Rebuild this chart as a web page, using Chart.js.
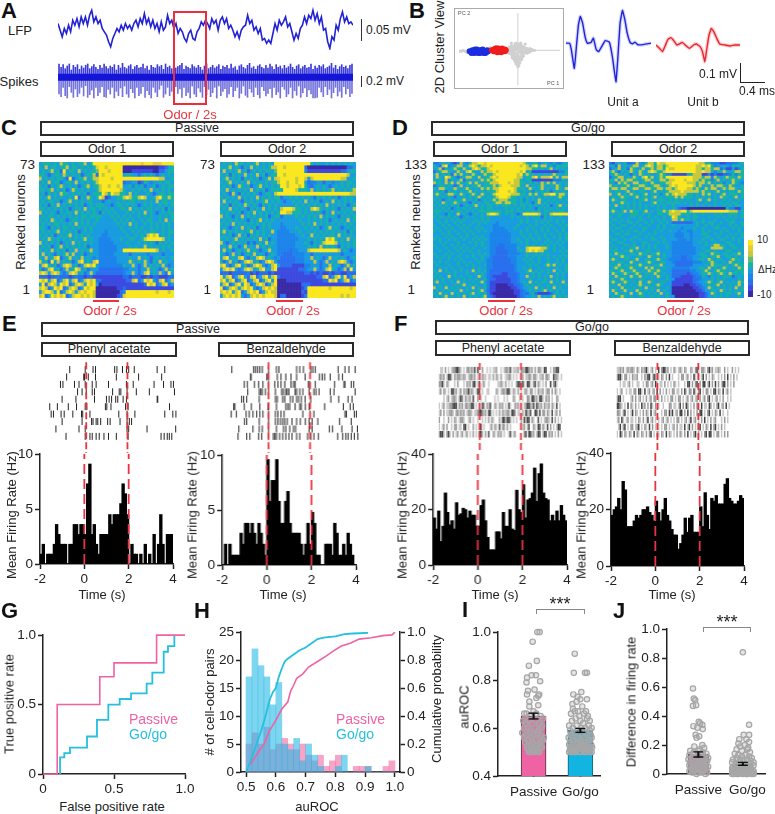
<!DOCTYPE html>
<html>
<head>
<meta charset="utf-8">
<title>Panels</title>
<script src="https://cdn.jsdelivr.net/npm/chart.js@4/dist/chart.umd.min.js"></script>
<style>
  html, body { margin: 0; background: #fff; }
  #page { position: relative; width: 775px; height: 814px; overflow: hidden; font-family: "Liberation Sans", Arial, sans-serif; color: #222; }
  #page canvas { position: absolute; }
  .t { position: absolute; white-space: nowrap; line-height: 1; }
  .box { position: absolute; box-sizing: border-box; border: 2px solid #2a2a2a; background: #fff; font-size: 12.5px; line-height: 1; display: flex; align-items: center; justify-content: center; white-space: nowrap; }
  .rule { position: absolute; }
</style>
</head>
<body>
<div id="page"></div>
<script>
/* ---------- panel A traces ---------- */
const lfpTrace = [20,0,-20,5,-10,15,-5,30,15,35,10,40,20,40,15,45,60,25,40,20,30,5,-5,-15,-35,-50,-25,-10,5,-5,15,0,20,5,15,0,20,30,10,35,20,50,20,35,10,30,5,20,-5,25,0,10,45,20,30,5,20,-10,5,-5,-25,-35,-10,0,-25,-30,-5,5,25,15,30,20,5,35,20,30,0,30,40,20,35,5,15,0,-20,-5,-25,0,10,15,45,20,30,0,10,-10,5,-30,-25,-40,-30,-40,-10,20,0,30,15,25,40,10,20,-5,-30,-10,-25,5,15,40,20,45,35,60,30,50,20,40,0,5,-35,-55,-20,-30,15,0,35,55,25,40,20,25,15];
const spikeUp = [40,30,38,26,34,40,22,36,30,38,24,34,28,36,40,26,32,38,30,24,36,28,40,32,26,34,30,38,22,36,28,42,30,26,34,38,24,32,36,28,30,40,26,34,22,36,30,28,38,32,36,24,40,30,34,26,38,28,32,36,42,24,34,30,26,38,32,28,36,30,22,34,40,26,30,36,28,32,38,24,34,30,36,26,40,28,32,22,34,38,30,26,36,42,28,32,24,34,38,30,26,36,28,40,32,24,38,30,34,26,36,28,32,40,30,24,34,38,26,32,36,28,30,40,24,34,28,36,32,38,26,30,34,42,28,36,24,32,38,30,34,26,36,40];
const spikeDown = [50,58,30,55,62,28,45,60,35,58,48,30,56,25,60,52,38,62,30,55,45,28,58,60,36,50,30,62,42,55,32,58,26,50,60,34,46,62,30,55,48,28,60,40,52,62,30,45,58,36,24,60,50,30,55,42,62,28,48,35,60,30,55,45,62,26,50,58,32,44,60,28,52,36,58,46,30,62,26,55,42,34,60,50,28,58,40,30,62,48,26,54,60,34,45,58,30,52,62,28,40,56,48,34,60,30,52,44,62,28,36,58,50,30,62,40,54,26,60,46,32,58,38,50,62,62,60,30,44,58,28,52,36,62,46,30,56,42,60,28,50,34,58,48];

/* ---------- panel B waveforms and clusters ---------- */
const unitATime = [0,.06,.09,.14,.18,.21,.24,.28,.32,.36,.42,.46,.51,.55,.6,.66,.73,.78,.84,.87,.91,.95,.99,1.03,1.08,1.12,1.16,1.21,1.3,1.43];
const unitAVolt = [0,0,-.033,-.125,0,.092,.133,.1,.033,0,.003,.025,-.033,-.042,-.017,.013,.005,-.067,-.192,-.083,.1,.163,.117,.05,.003,-.003,.005,-.008,-.007,0];
const unitBTime = [0,.06,.11,.16,.2,.25,.29,.35,.39,.44,.5,.56,.63,.68,.74,.78,.82,.85,.89,.93,.97,1.02,1.07,1.16,1.24,1.32,1.41];
const unitBVolt = [0,-.017,-.033,0,.028,.037,.025,0,.005,.013,-.003,-.017,0,.005,-.008,-.033,-.083,-.025,.05,.083,.067,.033,.005,0,-.005,0,0];
const pc1Blue = [-52,-50,-49,-47,-46,-44,-43,-41,-40,-38,-37,-35,-34,-32,-50,-47,-44,-41,-38,-35,-48,-45,-42,-39,-36,-33];
const pc2Blue = [-1,-2,0,-3,1,-1,-3,0,-2,1,-3,-1,-2,-1,-3,0,1,-3,0,-3,-1,-2,-1,-2,-1,0];
const pc1Red = [-28,-26,-25,-23,-22,-20,-19,-17,-16,-14,-13,-26,-23,-20,-17,-14,-24,-21,-18,-15];
const pc2Red = [0,1,-1,2,-2,1,-1,2,-1,1,0,-1,0,0,1,-1,2,2,-2,0];
const pc1Gray = [-63,-61,-59,-57,-55,-53,-30,-11,-10,-9,-8,-7,-6,-5,-4,-3,-2,-1,0,1,2,3,4,5,6,7,8,9,10,11,12,13,14,15,16,-10,-8,-6,-4,-2,0,2,4,6,8,10,12,-9,-7,-5,-3,-1,1,3,5,7,9,11,-9,-6,-3,0,3,6,9,12,-6,-4,-2,0,2,4,6,-5,-3,-1,1,3,5,-4,-2,0,2,4,-3,-1,1,3,-2,0,2,-1,1,0,-1,1,-2,-6,-3,0,3,6,-8,-4,0,4,8,-5,5,-10,10,14,18,-7,-2,3,8,-5,0,5,10,-7,-3,2,7];
const pc2Gray = [-1,-1,0,-1,-2,-1,3,-1,2,-1,3,1,4,-1,5,2,6,3,7,4,6,2,5,1,4,3,2,-1,2,1,0,2,-1,1,0,-3,-4,-2,-5,-3,-6,-2,-4,-3,-1,-2,-1,4,5,4,7,6,5,7,4,3,2,1,-2,-6,-7,-5,-7,-6,-3,-2,-8,-7,-9,-10,-8,-8,-6,-9,-8,-11,-10,-8,-7,-10,-12,-11,-9,-10,-12,-13,-14,-11,-15,-16,-14,-12,-17,-18,-8,-9,-13,3,1,2,0,3,1,-1,0,-1,-2,0,-1,0,1,0,0,8,8,8,7,-4,-5,-4,-3,2,3,3,3];

/* ---------- panels C, D: one digit per cell, 0 lowest to 9 highest, top row first ---------- */
const parula = ['#3a2aa8','#3c4ae0','#2a70ee','#1c84ea','#1a9ce0','#17b3a6','#5cbc78','#c6c840','#e6cc30','#fbe71f'];
const heatC1 = [
"455545475545455745999999999999999989998889999",
"547455455745545454589979999900000000000011245",
"454574529455474545569997999900011111110022455",
"554245547545452455729799999945544245454245454",
"745454554292455745779999799999999999999977445",
"454745524554745454579999999923344125434454554",
"545254575454524574557997997944535452445245455",
"554574545247545454457999999754454545474545454",
"452545475545454524555975977554745444542455455",
"545745454454925475459712445579755797445795575",
"454554524574545455444245445454554545454745545",
"545254745454545245455544245545454245454454545",
"554545454524554745545454544554745454554545254",
"745454254554745454542545454445454547454245455",
"454554545454545545555444545454544545454454545",
"545475454245545454454444454545454454554454745",
"454545545454745454544444445454745445454545454",
"554254545545454545444444444544545454454545454",
"454545745454524545444434444454454545455445455",
"545452454574545454444334444445445454797945454",
"454754545454545745443333444544554457999997454",
"745454524547454545443333344445444545454254545",
"454524574545454524443333334444545447454545454",
"545474545254745457443333334499999999999745445",
"474542545747445245443333344444244444344442444",
"547457924574547454343333334444544745424545445",
"745294745452479454793333334444754547425474544",
"479545247974524797943333333354474247454547424",
"524794524745974524442222222233444244745424745",
"797479742479745247422222222234474247945474294",
"222122322212322122111111111122122211212211122",
"979479247947924797922111111112279249794279247",
"492797497924797497940111111111111112979247924",
"797249792479724979900000001121111111111111111",
"479974924797479799700000000239999999999799979",
"792497979247997979700000001289999999999999999"];
const heatC2 = [
"454547554545745454999999999999545445454545454",
"545745425474545457799799999920000000000000224",
"474545745245454554699999999931111111111122455",
"545254547454745245599799999999999999999999744",
"457454525454524574789999979974799999999977445",
"545745454745454545579979979942334424434454554",
"454524754524574545459979997953245454245454545",
"547454545474545245555999975554745454574545457",
"454274254545424554799999999999999999999999977",
"545454745454745454552445454545425454545245454",
"474545425454545745454244545474545245474545454",
"545254547545425454544444454545454547454545245",
"454745454254547454547999755454797545454254547",
"545454524547454545459977555454545425474545454",
"745425474545454524552444454545454745454254545",
"454545454254574545444444445445454545245454745",
"545474545454545454443444444545474545454545454",
"454245474545245454443344454454545245745424545",
"574545454574545447433334445445454545454545254",
"454524745254545454433333344544745454554745454",
"545457454545474524433333334445454549795454745",
"742454545242454745433333344454254579997454545",
"454745247454745454433333344445454745454254545",
"474524545745424574433332334447999999999745424",
"542474524547454245433222333344244444444424444",
"479454794254797454342222233344745424745454245",
"524745247974524797422222233344474247454797424",
"794247945247974247942222111133444244745424745",
"479794247974579447911111112234474247954247294",
"222122222312122212111111111122121211212211222",
"947924794279247947921111111111112279247949247",
"794792479247924794900011111111111122979247924",
"479247949724797247900000000222111111111111111",
"924797479794247979700000000139999999799999979",
"797947924797924797700000000219999999999999999",
"479797942479797999702200000139999999999979799"];
const heatD1 = [
"324545213743577997999999999999754553454353245",
"542793457745797577979999999997975795774535555",
"457254575475479755799999999999977554545745454",
"245775447547954475779799999997945111111111335",
"574545275745475457557999999979575545454575545",
"475497542457754745579799999977455795777957477",
"545473545725454575757999999775455111111133354",
"755475747545747545577799979775545454757574545",
"245545424745455745557579997775474545754547545",
"547754575457545475757799999755547545745457547",
"454525454545745454555799979754545354545245454",
"575457754754575475457999997775547574577995775",
"454545425454545754545799975545454545454545754",
"545245454574545245457577755545354547545454545",
"454754575454254545545775775545454257454545454",
"545454545245457454554545554545545454545245745",
"454545245454545454554444545454545425454545454",
"555454545545454555555554555455454545455454554",
"454425447454245454799754545424999997454799999",
"545545454245454454544444445454454545254544544",
"454454545454445454544444444445454454454545454",
"445454454544454545444344444445454454545445454",
"544545445454544544443344444454445454454544545",
"454454544545445454443333444544454544545454454",
"545445454454544545443333344445454454545445454",
"444545445445454444433333334445445454454544545",
"454454544545445454433333334444545445454454545",
"545445454454454545433333334454454545445444545",
"445454445444545454433333334445454454454545454",
"544544545454445454433322333344454544545454544",
"454454454545454445433222333354479999775454454",
"445445445454544544433222233345479797754454545",
"544454544544454545433222233334454454545444454",
"454545445445454454432222233344454545445454545",
"445445454544445454332222223344545445445445454",
"545454445454544544332222223344454545445445454",
"454445445445454445332222222344445454457574545",
"445454544544454544332222222344545445445445445",
"547454454545474545322222222344457454545474545",
"454445454445445454322221122234454545445445454",
"545447454544544754321111122234474545454745454",
"454545445454545445322111112234445445454545454",
"574544547454454574311111112234547454554745474",
"445454454574545445311000011223454545445454545",
"745474545445474545311000001123445474545474544",
"454545454745454574211000000112345454574545454",
"547454745454574545310000000112324521111245454",
"454574545474545457321000000012344547454574545"];
const heatD2 = [
"314545223743577597799999999999775533311223345",
"452745457745797577579999999997797953445435554",
"245745275457457577597799999997757757724114135",
"574254575475479755799999999997797753557545775",
"457545425475454457533111114577711313112235355",
"245774547547957457599999999977757737545755475",
"557475775545775457757799979977575535745457554",
"543757547745547545577999997775775745453547543",
"745455745577545775457979999975745475775475445",
"577577457745775577577579997757547577457577545",
"545545745455445745457777977777575545745455475",
"745745475545745453575797775545475745457455545",
"454575545745545745455575755545454545475545745",
"475455445455745455545454545445745745445454454",
"454575545454445745455555454545445445454545544",
"547454545454545454544544444545454545445454554",
"454454545454544454544542110000000000000533114",
"575457475545745455757977995799999999999977745",
"454554455545454455457777555454454445454455545",
"544544455454454544545975445455444544545454545",
"455454544455445454544775755454454445444545444",
"544544554544545445454222222245454554454455445",
"454455445454454454544544444445445454544454545",
"545544454445544454544444344454454445545445454",
"454454545545444545445443443344454544454544454",
"445545544454454544444433344344455445454454545",
"544454445544545445444433344344445544544545445",
"455445454454445544544443334344454454455445454",
"544554445445544454544333333344545445444554454",
"454445545445454544454333333344445457755455444",
"545454455745454544454333333334454477775445545",
"455445574544554454444333333334445545444554454",
"547554455475545574544333333334554475545545574",
"454575544554475454544333223344455455744554545",
"575445545744554575443333223344554754554457554",
"454554475454575445544322222233344575445475454",
"545745554575454557444422222244445475554545755",
"457554575454757454544333333444554745457545475",
"554575457545475575444222222334457545755454555",
"475457545754554754544222221233455754575475545",
"547545475574545475454222111123354354545552454",
"454575454455445454454411111122344454545444454",
"575457545474575445544111111123445754574545475",
"454745454575454575444111100112244545745454574",
"545474545454745454454000000011234754545454745",
"475457454754545474544000000001124455475454545",
"547545474575454547454000000000112475454554574",
"454575454455445454454400000000112445454544454"];
const heatBar = ['9','8','7','6','5','4','3','2','1','0'];

/* ---------- panels E, F: rasters and firing rate ---------- */
const rasterPhenylPassive = [
  [-.8,-.05,.33,.45,1.38,1.49,1.76,1.95,2.06,2.33,3.44,3.81],
  [-.95,-.12,-.08,.1,.45,1.46,2.54,3.66],
  [-1.25,-1.13,-.57,-.35,-.05,.29,.48,1.08,1.95,2.28,3.29,3.75,4.11,4.23],
  [-.42,-.2,0,.29,.4,1.28,1.6,1.68,1.98,2.43,3.06,4.28],
  [-1.17,-.5,.4,.98,1.11,1.23,1.43,1.53,1.79,1.95,3.44,3.47],
  [-1.77,-1.4,-.87,-.47,-.05,.03,.93,1.0,1.2,1.91,2.03,4.04],
  [-1.7,-1.59,-1.22,-1.07,-.65,-.23,-.17,.18,1.58,1.98,2.36,3.81,4.2,4.35],
  [-1.17,-.2,.26,.33,.48,.56,.7,1.04,1.16,1.64,1.98,2.09,2.2],
  [-1.47,-.35,-.05,1.98,2.06,2.95,4.34],
  [-.98,-.05,.18,.29,.48,.63,.86,1.08,1.46,2.03,3.63,3.78,3.93,4.03,4.15]];
const rasterBenzPassive = [
  [-1.77,-.72,-.63,-.53,-.42,-.3,0,.38,.5,1.35,1.5,1.68,2.03,2.13,2.25,3.35,3.68,3.87,4.17],
  [-.87,-.84,-.08,0,.42,.6,.83,1.08,1.35,1.76,2.45,2.58,2.7,2.97,3.38,3.56],
  [-1.17,-1.02,-.68,-.48,-.27,0,.3,.45,.6,.78,1.08,1.2,1.28,1.92,1.98,2.25,3.18,3.63,3.68,3.98,4.1],
  [-1,-.45,-.38,-.3,-.15,0,.33,.63,.72,.83,.9,.98,1.28,1.35,1.5,1.65,1.95,2.18,2.28,2.43,2.97,3.15,4.17],
  [-1.3,-1.2,-1.05,-.45,.33,.42,.68,.78,1.05,1.17,1.35,1.45,1.58,1.76,2.03,3,3.38,3.83,4.02],
  [-1.68,-1.62,-1.17,-.83,-.42,-.03,0,.38,.83,.93,1.02,1.28,1.5,1.58,1.77,1.95,2.7,3.6,3.93,4.08],
  [-1.8,-1.55,-1.08,-.93,-.75,-.57,-.42,-.27,0,.33,.45,.6,.75,1.65,2,2.18,3.68,3.75,4.13,4.23],
  [-1.16,-1.05,-.45,0,.33,.45,.57,.68,.78,.9,1.13,1.35,1.53,1.77,1.95,2.1,2.37,3.42,3.98],
  [-1.43,-.75,-.45,-.3,0,.38,.72,.83,1.02,1.2,1.3,1.95,2.1,2.93,3.08,3.53,4.02,4.28],
  [-1.47,-1.05,-.9,-.48,-.33,0,.23,.3,.38,.53,.68,.83,.98,1.13,1.35,1.5,1.88,2.03,2.18,2.4,3.33,3.57,3.72,3.83,3.98,4.13,4.3]];
// 80 bins over the six seconds, digit is how dark the bin reads
const rasterPhenylGoGo = [
".11.2.1.1223321.1.221213.3..2..1.1.112..1.12213.1112.22133212.2.221.33..1.2233..",
"1212.1331.21221121.12212.1..211.11.2.21.2..1122.1.1...2.1122.221.112.221..3221.1",
"2231.21...1.2...1.212.33.13.12..1.....1121.2.1.1..233131.331.23.21.1.2..3.231...",
"12.21.1.3312.12.2123121.133.1..11....21.1221331.21.2.1.121.22.1.2112.122.2.21.1.",
"...1.12.1221.232.2112.3..2.1..1.....1.1...1.1...21..1.1..22.3312.331.212.1..21..",
"1.12.1122333.212.221233.1.2.32.213..21.212.1.31..212.2.1233213.3212.2112.21.3.1.",
"12.2.11221.221212.1221.11233212.33.1.1.2.21122.332.11.2.3213..33.3.22.21.3.12.2.",
"2..1..2.1.21.1221..12.1..1..1.1.2.21...2.331332.1.1..2.3133.21..3.1.1221.3.2.1.1",
"1.12.2..1.22.11.33.1..2.1.23.1...12.21.3.22.2.1.......12.13..21.33.21.3.2.1.133.",
"2331.231.2.12.12.12.1.2.1.331.2.3..21.212.1..13.12.....23.3312.133.133.212.1.2.1"];
const rasterBenzGoGo = [
"11212.121221.21.21231.12.1.3.23312.1.21.121.21..21.231.221.2312.1121..2.1..2.1.1",
"2331.22.1.2112..1.2133.132.1.21.2.3.1...1.22.12.1.31.2.13.2.1.21..1.1.2.3.1.2.1.",
"..1.11.12.1..11..1.22.12.31.11.2.1.1.21.1...1.33.2.23.2.33.13.2.3.2.133.2.1.2...",
"1.12..1.11.22.331.3.12.12.3.2.1.2.1.22.11.2.31.22.31.23.1.22.1.33.21.3.12.1.....",
"233.1....12.2.12.1.2.12.22.1.2.1.1.22.1.22.1.12.12.12.2.12.23.1.12.1.2..1.1.....",
"3321.1.3.21.2.1.312.2.31.2.1..1...22.11.13.2.32.1.2.21.3.11.32.1.23.12.3.1......",
"221.23.1.13.21.1.2.21.3.12...1.22.313.12.33.2.3.2.1.2.33.1.23.1.21.3.1..1.......",
"12.31.12.11.1.21.2.13.12.1.1.12.12.1.1.22.1.12.13.12.1.2.3.1.2.12...1.2.1.......",
".13.23.1.22.123.1.21.3.2.1.1.1.22.1.12.2.11.3.13.2.1.23.1.21.3.23.1.2.1.........",
"1.32.21.21.3.21.21.2.23.1.21.21.3.21.1.2.21.2.3.1.23.2.1.23.33.1.22.1.2.2......."];
const ratePhenylPassive = [.9,1.8,0,.9,.9,.9,1.8,3.6,2.7,1.8,1.8,1.8,0,1.8,1.8,3.6,3.6,2.7,3.6,3.6,2.7,7.3,9.1,2.7,3.6,1.8,.9,2.7,2.7,2.7,2.7,4.5,3.6,4.5,4.5,4.5,5.5,7.3,6.4,4.5,0,1.8,.9,.9,0,.9,0,1.8,0,.9,0,2.7,0,1.8,4.5,1.8,0,2.7,2.7,2.7];
const rateBenzPassive = [0,1.9,0,1.9,.9,.9,.9,.9,2.9,1.9,3.8,3.8,2.9,3.8,2.9,1.9,3.8,2.9,1.9,.9,9.6,5.8,7.7,7.7,9.6,5.8,3.8,3.8,5.8,6.7,3.8,2.9,2.9,2.9,2.9,1.9,.9,1.9,3.8,1.9,4.8,3.8,.9,.9,0,0,1.9,1.9,1.9,.9,3.8,2.9,.9,.9,1.9,.9,2.9,1.9,.9,0];
const ratePhenylGoGo = [17,13,19.5,8.5,14,26,19,14.5,16,13,22.5,18,18.5,20.5,20,17,19.5,18,18,14,14,21.5,23.5,16,10,5.5,5.5,5.5,12,12,9.5,19,14,14,20,13,12.5,27,20,19,29,17,23.5,24,26,35,23,33,36.5,26,24,23.5,16,18,16,19.5,16,21.5,18,16];
const rateBenzGoGo = [18,20,21,24,20,30,27,14,14,14,16,18,17,18,20,20,21,19,18,16,23,19,16,20,24,18,16,13,11,11,6,8,11,17,12,17,18,12,12,12,21,14,26,18,13,24,23,25,22,22,22,29,31,24,23,22,22,23,25,24];

/* ---------- panel G, H ---------- */
const rocPassiveX = [0,.1,.1,.4,.4,.5,.5,.8,.8,1];
const rocPassiveY = [0,0,.5,.5,.7,.7,.8,.8,1,1];
const rocGoGoX = [.12,.12,.15,.15,.19,.19,.31,.31,.38,.38,.46,.46,.54,.54,.62,.62,.73,.73,.77,.77,.85,.85,.88,.88,.925,.925];
const rocGoGoY = [0,.12,.12,.15,.15,.19,.19,.27,.27,.39,.39,.5,.5,.54,.54,.58,.58,.65,.65,.73,.73,.88,.88,.92,.92,1];
const aurocBins = [.51,.53,.55,.57,.59,.61,.63,.65,.67,.69,.71,.73,.75,.77,.79,.81,.83,.85,.87,.89,.91,.93,.95,.97,.99];
const pairsPassive = [5,7,5,8,4,5,6,5,4,5,3,2,3,1,2,3,0,0,1,1,1,0,0,1,2];
const pairsGoGo = [17,22,19,17,12,16,5,4,6,2,5,3,1,0,0,1,3,0,0,0,1,0,0,0,0];
const cumPassiveX = [.51,.52,.54,.56,.58,.6,.62,.64,.65,.66,.67,.69,.71,.74,.77,.79,.82,.85,.88,.92,.96,.99,1];
const cumPassiveY = [.05,.07,.14,.2,.3,.37,.45,.5,.58,.62,.67,.7,.75,.79,.83,.86,.9,.92,.95,.96,.975,.98,1];
const cumGoGoX = [.5,.51,.52,.53,.54,.55,.56,.57,.58,.59,.6,.61,.62,.63,.64,.66,.68,.7,.72,.74,.76,.8,.83,.86,.91];
const cumGoGoY = [0,.05,.11,.17,.23,.29,.36,.44,.52,.57,.6,.68,.74,.79,.81,.84,.87,.89,.92,.95,.96,.97,.985,.99,.995];

/* ---------- panel I, J ---------- */
const groupNames = ['Passive', 'Go/go'];
const aurocMean = [.65, .59];
const aurocErr = [.012, .008];
const rateDiffMean = [.135, .07];
const rateDiffErr = [.018, .01];
const aurocPassiveX = [.08,.13,-.02,-.1,.07,-.14,-.04,.05,.14,-.15,-.12,-.14,.02,.1,-.09,.06,.12,-.09,.1,-.2,-.15,-.08,0,.06,.15,.2,-.22,-.17,-.1,-.03,.05,.12,.18,-.2,-.13,-.06,.03,.1,.17,-.24,-.16,-.08,0,.08,.16,.22,-.2,-.12,-.04,.04,.13,.2,-.18,-.1,-.02,.06,.14,-.14,-.05,.03,.11,.18,-.12,-.03,.07,.15,-.08,0,.09,-.1,.02,.12];
const aurocPassiveY = [1,1,.96,.86,.88,.81,.82,.82,.795,.79,.755,.74,.76,.735,.71,.725,.74,.69,.695,.66,.66,.65,.67,.66,.65,.64,.63,.62,.63,.62,.63,.62,.61,.6,.6,.59,.6,.59,.6,.58,.57,.58,.57,.58,.57,.56,.56,.55,.56,.55,.56,.55,.54,.53,.54,.53,.54,.52,.53,.52,.53,.52,.51,.5,.51,.52,.5,.51,.5,.5,.5,.5];
const aurocGoGoX = [-.12,-.14,.1,.14,-.15,-.06,.02,-.17,-.08,0,.14,-.16,-.05,.04,.12,-.2,-.12,-.02,.08,.16,-.18,-.1,0,.06,.14,.2,-.24,-.16,-.08,.02,.1,.18,.24,-.22,-.14,-.06,.03,.12,.2,-.2,-.13,-.04,.05,.13,.22,-.25,-.17,-.09,0,.08,.16,.24,-.22,-.14,-.05,.04,.12,.2,-.24,-.16,-.08,0,.08,.16,.23,-.2,-.12,-.04,.05,.13,.21,-.22,-.14,-.06,.02,.1,.18,.25,-.24,-.16,-.08,0,.08,.16,.24,-.2,-.1,0,.1,.2,-.2,-.1,0,.1,.2];
const aurocGoGoY = [.91,.83,.83,.83,.74,.73,.75,.7,.71,.72,.72,.68,.67,.69,.67,.66,.67,.65,.66,.65,.63,.64,.63,.62,.64,.63,.61,.6,.61,.6,.6,.61,.6,.59,.58,.59,.59,.58,.59,.57,.58,.56,.57,.58,.57,.56,.55,.56,.55,.56,.55,.56,.54,.55,.54,.53,.54,.55,.53,.52,.53,.54,.53,.52,.53,.52,.51,.52,.53,.51,.52,.51,.5,.51,.52,.5,.51,.52,.5,.5,.51,.5,.5,.51,.5,.5,.5,.5,.5,.5,.51,.5,.52,.51,.5];
const diffPassiveX = [-.12,-.1,-.07,-.12,-.05,.01,.09,-.11,-.02,.04,.1,-.06,.02,-.04,.09,-.09,.13,.03,-.18,-.1,0,.1,.18,-.2,-.12,-.04,.05,.14,.22,-.22,-.14,-.05,.04,.13,.2,-.18,-.1,0,.08,.17,-.2,-.12,-.03,.06,.15,.22,-.16,-.08,0,.09,.18,-.2,-.1,0,.1,.2,-.14,-.04,.06,.16];
const diffPassiveY = [.59,.52,.51,.47,.475,.36,.34,.33,.32,.35,.31,.27,.26,.25,.2,.19,.18,.17,.16,.15,.16,.15,.14,.13,.14,.12,.13,.12,.11,.1,.11,.1,.09,.1,.09,.08,.07,.08,.07,.08,.06,.05,.06,.05,.06,.05,.04,.03,.04,.03,.04,.02,.02,.01,.02,.01,.01,0,.01,0];
const diffGoGoX = [0,.14,.02,.14,-.08,.08,.14,-.1,.04,-.06,.12,-.14,-.02,.1,.16,-.18,-.1,-.02,.06,.14,.2,-.22,-.14,-.06,.02,.1,.18,.24,-.24,-.16,-.08,0,.08,.16,.24,-.22,-.14,-.06,.02,.1,.18,-.24,-.16,-.08,0,.08,.16,.24,-.22,-.12,-.02,.08,.18,-.24,-.14,-.04,.06,.16,.24,-.2,-.1,0,.1,.2,-.24,-.14,-.04,.06,.16,.24,-.2,-.1,0,.1,.2];
const diffGoGoY = [.84,.34,.27,.27,.24,.24,.22,.21,.2,.19,.18,.17,.16,.17,.15,.14,.13,.12,.13,.12,.11,.1,.11,.1,.09,.1,.09,.08,.08,.07,.08,.07,.06,.07,.06,.05,.06,.05,.06,.05,.04,.04,.03,.04,.03,.04,.03,.02,.03,.02,.03,.02,.02,.02,.01,.02,.01,.02,.01,.01,.01,.01,0,.01,0,0,.01,0,.01,0,0,0,0,0,0];

/* ---------- helpers ---------- */
Chart.defaults.font.family = '"Liberation Sans", Arial, sans-serif';
Chart.defaults.color = '#222';
Chart.defaults.animation = false;
Chart.defaults.plugins.legend.display = false;
Chart.defaults.plugins.tooltip.enabled = false;

const page = document.getElementById('page');
const PINK = '#ef62a3', CYAN = '#25bfe0', RED = '#e8343f', DARK = '#222';

function text(str, x, y, o = {}) {
  const el = document.createElement('div');
  el.className = 't';
  el.textContent = str;
  el.style.left = x + 'px';
  el.style.top = y + 'px';
  el.style.fontSize = (o.size || 13) + 'px';
  if (o.bold) el.style.fontWeight = 'bold';
  el.style.color = o.color || DARK;
  const tx = o.align === 'left' ? '0' : o.align === 'right' ? '-100%' : '-50%';
  el.style.transform = `translate(${tx},-50%)` + (o.rot ? ` rotate(${o.rot}deg)` : '');
  page.appendChild(el);
}
function letter(str, x, y) { text(str, x, y, { size: 22, bold: true, align: 'left', color: '#111' }); }
function titleBox(str, x0, y0, x1, y1) {
  const el = document.createElement('div');
  el.className = 'box';
  el.textContent = str;
  el.style.left = x0 + 'px';
  el.style.top = y0 + 'px';
  el.style.width = (x1 - x0) + 'px';
  el.style.height = (y1 - y0) + 'px';
  page.appendChild(el);
}
function rule(x0, y0, w, h, color) {
  const el = document.createElement('div');
  el.className = 'rule';
  el.style.cssText += `left:${x0}px;top:${y0}px;width:${w}px;height:${h}px;background:${color}`;
  page.appendChild(el);
}

// plot area lands exactly on box [x0,y0,x1,y1]; m holds the room for axes around it
function chartAt(box, m, type, datasets, scales) {
  const [x0, y0, x1, y1] = box;
  const c = document.createElement('canvas');
  const w = x1 - x0 + m.l + m.r, h = y1 - y0 + m.t + m.b;
  c.style.left = (x0 - m.l) + 'px';
  c.style.top = (y0 - m.t) + 'px';
  c.style.width = w + 'px';
  c.style.height = h + 'px';
  c.width = w; c.height = h;
  page.appendChild(c);
  const pad = { left: m.l, right: m.r, top: m.t, bottom: m.b };
  Object.keys(scales).forEach(k => {
    const s = scales[k];
    if (s.display === false) return;
    const pos = s.position || (k[0] === 'x' ? 'bottom' : 'left');
    if (pos === 'left') { s.afterFit = a => { a.width = m.l; }; pad.left = 0; }
    if (pos === 'right') { s.afterFit = a => { a.width = m.r; }; pad.right = 0; }
    if (pos === 'bottom') { s.afterFit = a => { a.height = m.b; }; pad.bottom = 0; }
  });
  return new Chart(c, {
    type,
    data: { datasets },
    options: { responsive: false, maintainAspectRatio: false, devicePixelRatio: 1, layout: { padding: pad }, scales }
  });
}
function hiddenAxis(min, max, extra = {}) {
  return { type: 'linear', display: false, min, max, offset: false, grid: { offset: false }, ...extra };
}
function axis(min, max, extra = {}) {
  return {
    type: 'linear', min, max, offset: false,
    border: { color: DARK, width: 1.5 },
    grid: { drawOnChartArea: false, color: DARK, tickLength: 5, tickWidth: 1.5, offset: false },
    ticks: { color: DARK, font: { size: 13.5 }, padding: 2, maxRotation: 0, autoSkip: false, ...(extra.ticks || {}) },
    ...(extra.rest || {})
  };
}
function pairs(xs, ys) { return xs.map((x, i) => ({ x, y: ys[i] })); }
function oneDecimal(v) { return v === 0 ? '0' : v.toFixed(1); }
function fixedTicks(list) { return a => { a.ticks = list.map(value => ({ value })); }; }

/* ---------- A ---------- */
letter('A', 1, 11);
text('LFP', 20, 30);
text('Spikes', 19, 81);
chartAt([57.5, 6.6, 352.5, 50], { l: 0, t: 0, r: 0, b: 0 }, 'line', [
  { data: lfpTrace.map((y, x) => ({ x, y })), borderColor: '#2222d4', borderWidth: 1.6, pointRadius: 0, clip: false }
], { x: hiddenAxis(0, lfpTrace.length - 1), y: hiddenAxis(-60, 70) });
chartAt([57.5, 60, 352.5, 100], { l: 0, t: 0, r: 0, b: 0 }, 'bar', [
  { type: 'line', data: [{ x: 0, y: 0 }, { x: spikeUp.length, y: 0 }], borderColor: '#1414d8', borderWidth: 7, pointRadius: 0, order: 0 },
  { data: spikeUp.map((v, i) => ({ x: i + .5, y: [0, v] })), backgroundColor: 'rgba(25,25,210,.85)', barThickness: 1, grouped: false, order: 1 },
  { data: spikeDown.map((v, i) => ({ x: i + .5, y: [-v, 0] })), backgroundColor: 'rgba(40,40,200,.65)', barThickness: 1, grouped: false, order: 1 }
], { x: hiddenAxis(0, spikeUp.length), y: hiddenAxis(-68, 52) });
const odorRect = document.createElement('div');
odorRect.style.cssText = 'position:absolute;left:172.5px;top:11px;width:34px;height:93.5px;box-sizing:border-box;border:2px solid #ee2c3c';
page.appendChild(odorRect);
text('Odor / 2s', 190, 114, { color: RED });
rule(360.5, 19, 1.5, 22, '#333');
text('0.05 mV', 366, 30, { align: 'left', size: 12 });
rule(360.5, 76, 1.5, 11, '#333');
text('0.2 mV', 366, 81, { align: 'left', size: 12 });

/* ---------- B ---------- */
letter('B', 409, 11);
text('2D Cluster View', 439, 47, { rot: -90, size: 13 });
chartAt([454.5, 8.5, 563.5, 88.5], { l: 0, t: 0, r: 0, b: 0 }, 'scatter', [
  { data: pairs(pc1Red, pc2Red), backgroundColor: '#f01c1c', pointRadius: 3, borderWidth: 0, order: 0 },
  { data: pairs(pc1Blue, pc2Blue), backgroundColor: '#1c2ce0', pointRadius: 3, borderWidth: 0, order: 1 },
  { data: pairs(pc1Gray, pc2Gray), backgroundColor: '#d0d0d0', pointRadius: 1.6, borderWidth: 0, order: 2 },
  { type: 'line', data: [{ x: -64, y: 0 }, { x: 46, y: 0 }], borderColor: '#d8d8d8', borderWidth: 1.2, pointRadius: 0, order: 3 },
  { type: 'line', data: [{ x: 0, y: -39 }, { x: 0, y: 42 }], borderColor: '#d8d8d8', borderWidth: 1.2, pointRadius: 0, order: 3 }
], { x: hiddenAxis(-63.5, 45.5), y: hiddenAxis(-38.5, 41.5) });
const clusterFrame = document.createElement('div');
clusterFrame.style.cssText = 'position:absolute;left:454px;top:8px;width:110px;height:81px;box-sizing:border-box;border:1px solid #aaa';
page.appendChild(clusterFrame);
text('PC 2', 458, 14, { size: 5.5, align: 'left', color: '#555' });
text('PC 1', 547, 84, { size: 5.5, align: 'left', color: '#555' });
chartAt([565.7, 5, 651.5, 90], { l: 0, t: 0, r: 0, b: 0 }, 'line', [
  { data: pairs(unitATime, unitAVolt), borderColor: '#2222d8', borderWidth: 1.4, pointRadius: 0, tension: .1, clip: false, order: 0 },
  { data: pairs(unitATime, unitAVolt), borderColor: 'rgba(130,140,240,.35)', borderWidth: 3.8, pointRadius: 0, tension: .1, clip: false, order: 1 }
], { x: hiddenAxis(0, 1.43), y: hiddenAxis(-.233, .19) });
chartAt([655.7, 5, 740.3, 90], { l: 0, t: 0, r: 0, b: 0 }, 'line', [
  { data: pairs(unitBTime, unitBVolt), borderColor: '#e8262e', borderWidth: 1.4, pointRadius: 0, tension: .1, clip: false, order: 0 },
  { data: pairs(unitBTime, unitBVolt), borderColor: 'rgba(245,130,135,.4)', borderWidth: 3.8, pointRadius: 0, tension: .1, clip: false, order: 1 }
], { x: hiddenAxis(0, 1.41), y: hiddenAxis(-.225, .2) });
text('0.1 mV', 737, 74, { align: 'right', size: 12 });
rule(740, 63, 1.2, 20, '#222');
rule(740, 82, 25, 1.2, '#222');
text('0.4 ms', 757, 91, { size: 12 });
text('Unit a', 623, 102, { size: 12 });
text('Unit b', 703, 102, { size: 12 });

/* ---------- C, D heat maps ---------- */
function heatmap(rows, box, cols = 45) {
  const n = rows.length;
  const labels = Array.from({ length: cols }, (_, i) => i);
  const datasets = rows.slice().reverse().map(row => {
    const cells = row.padEnd(cols, '5').slice(0, cols).split('');
    return { data: cells.map(() => 1), backgroundColor: cells.map(c => parula[+c]), barPercentage: 1, categoryPercentage: 1, borderWidth: 0 };
  });
  const ch = chartAt(box, { l: 0, t: 0, r: 0, b: 0 }, 'bar', datasets, {
    x: { display: false, stacked: true },
    y: { display: false, stacked: true, min: 0, max: n }
  });
  ch.data.labels = labels;
  ch.update();
}
letter('C', 1, 128);
titleBox('Passive', 40, 121, 354, 136);
titleBox('Odor 1', 40, 141, 174, 157);
titleBox('Odor 2', 220, 141, 354, 157);
heatmap(heatC1, [39, 162, 174, 298]);
heatmap(heatC2, [220, 162, 356, 298]);
text('Ranked neurons', 20, 222, { rot: -90 });
text('73', 35, 165, { align: 'right', size: 13.5 });
text('1', 30, 290, { align: 'right', size: 13.5 });
text('73', 215, 165, { align: 'right', size: 13.5 });
text('1', 211, 290, { align: 'right', size: 13.5 });
rule(93, 300, 26, 2, RED);
rule(276, 300, 27, 2, RED);
text('Odor / 2s', 110, 310, { color: RED });
text('Odor / 2s', 293, 310, { color: RED });

letter('D', 392, 128);
titleBox('Go/go', 431, 121, 745, 136);
titleBox('Odor 1', 433, 141, 567, 157);
titleBox('Odor 2', 611, 141, 745, 157);
heatmap(heatD1, [433, 162, 568, 298]);
heatmap(heatD2, [609, 162, 744, 298]);
text('Ranked neurons', 415, 222, { rot: -90 });
text('133', 427, 165, { align: 'right', size: 13.5 });
text('1', 415, 290, { align: 'right', size: 13.5 });
text('133', 605, 165, { align: 'right', size: 13.5 });
text('1', 594, 290, { align: 'right', size: 13.5 });
rule(488, 300, 27, 2, RED);
rule(667, 300, 27, 2, RED);
text('Odor / 2s', 506, 310, { color: RED });
text('Odor / 2s', 684, 310, { color: RED });
heatmap(heatBar, [748, 240, 753, 297], 1);
text('10', 757, 240, { align: 'left', size: 10 });
text('\u0394Hz', 758, 270, { align: 'left', size: 10 });
text('-10', 757, 295, { align: 'left', size: 10 });

/* ---------- E, F rasters and histograms ---------- */
function redDash(t, yMin, yMax, dash) {
  return { type: 'line', data: [{ x: t, y: yMin }, { x: t, y: yMax }], borderColor: RED, borderWidth: 1.8, borderDash: dash, pointRadius: 0, order: 0, clip: false };
}
function rasterTimes(rows, xNeg2, pxPerSec, rowGap, firstRowY) {
  const top = 361, bottom = 453;
  const datasets = [redDash(0, 0, 20, [7, 3]), redDash(2, 0, 20, [7, 3])];
  rows.forEach((times, r) => {
    datasets.push({ data: times.map(x => ({ x, y: r + 1 })), showLine: false, pointStyle: 'line', rotation: 90, pointRadius: 3.5, pointBorderColor: '#222', pointBorderWidth: 1, order: 1 });
  });
  chartAt([xNeg2, top, xNeg2 + 6.5 * pxPerSec, bottom], { l: 0, t: 0, r: 0, b: 0 }, 'scatter', datasets, {
    x: hiddenAxis(-2, 4.5), y: hiddenAxis(1 - (firstRowY - top) / rowGap, 1 + (bottom - firstRowY) / rowGap, { reverse: true })
  });
}
function rasterBins(rows, xNeg2, pxPerSec, rowGap, firstRowY) {
  const shade = { 1: 'rgba(30,30,30,.25)', 2: 'rgba(30,30,30,.45)', 3: 'rgba(20,20,20,.8)' };
  const top = 361, bottom = 453;
  const datasets = [redDash(0, 0, 20, [7, 3]), redDash(2, 0, 20, [7, 3])];
  rows.forEach((row, r) => {
    const cells = [], colors = [];
    row.split('').forEach((ch, i) => {
      if (ch === '.') return;
      cells.push({ x: -2 + (i + .5) * .075, y: r + 1 });
      colors.push(shade[ch]);
    });
    datasets.push({ data: cells, showLine: false, pointStyle: 'line', rotation: 90, pointRadius: 3.3, pointBorderColor: colors, pointBorderWidth: 1.5, order: 1 });
  });
  chartAt([xNeg2, top, xNeg2 + 6.5 * pxPerSec, bottom], { l: 0, t: 0, r: 0, b: 0 }, 'scatter', datasets, {
    x: hiddenAxis(-2, 4.5), y: hiddenAxis(1 - (firstRowY - top) / rowGap, 1 + (bottom - firstRowY) / rowGap, { reverse: true })
  });
}
function rateChart(rates, box, yMax, yStep, dash) {
  const xScale = axis(-2, 4);
  xScale.ticks.stepSize = 2;
  const yScale = axis(0, yMax);
  yScale.ticks.stepSize = yStep;
  chartAt(box, { l: 32, t: 9, r: 8, b: 22 }, 'bar', [
    redDash(0, 0, yMax, dash), redDash(2, 0, yMax, dash),
    { data: rates.map((y, i) => ({ x: -2 + (i + .5) * .1, y })), backgroundColor: '#000', barThickness: 2.7, grouped: false, order: 1 }
  ], { x: xScale, y: yScale });
}
letter('E', 2, 324);
titleBox('Passive', 41, 322, 355, 337);
titleBox('Phenyl acetate', 41, 342, 177, 357);
titleBox('Benzaldehyde', 218, 342, 354, 357);
rasterTimes(rasterPhenylPassive, 40, 22.2, 8.33, 365);
rasterTimes(rasterBenzPassive, 222.3, 22.2, 8.33, 365);
rateChart(ratePhenylPassive, [40, 453, 173.3, 564], 10, 5, [10, 5]);
rateChart(rateBenzPassive, [222.3, 454, 355.6, 565], 10, 5, [10, 5]);
text('Mean Firing Rate (Hz)', 11, 515, { rot: -90 });
text('Mean Firing Rate (Hz)', 192, 515, { rot: -90 });
text('Time (s)', 102, 594);
text('Time (s)', 283, 594);

letter('F', 394, 324);
titleBox('Go/go', 435, 320, 749, 335);
titleBox('Phenyl acetate', 435, 340, 571, 356);
titleBox('Benzaldehyde', 614, 340, 750, 356);
rasterBins(rasterPhenylGoGo, 433.2, 22.3, 8.11, 365);
rasterBins(rasterBenzGoGo, 610.7, 22.2, 8.11, 365);
rateChart(ratePhenylGoGo, [433.3, 453, 567, 565], 40, 20, [10, 5]);
rateChart(rateBenzGoGo, [610.7, 452, 744, 566], 40, 20, [10, 5]);
text('Mean Firing Rate (Hz)', 402, 515, { rot: -90 });
text('Mean Firing Rate (Hz)', 581, 515, { rot: -90 });
text('Time (s)', 495, 594);
text('Time (s)', 672, 594);

/* ---------- G ---------- */
letter('G', 1, 611);
const gx = axis(0, 1, { ticks: { stepSize: .5, callback: oneDecimal } });
const gy = axis(0, 1, { ticks: { stepSize: .5, callback: oneDecimal } });
chartAt([43, 634, 185, 774], { l: 35, t: 9, r: 14, b: 24 }, 'line', [
  { data: pairs(rocPassiveX, rocPassiveY), borderColor: PINK, borderWidth: 1.6, pointRadius: 0, clip: false, order: 0 },
  { data: pairs(rocGoGoX, rocGoGoY), borderColor: CYAN, borderWidth: 1.8, pointRadius: 0, clip: false, order: 1 }
], { x: gx, y: gy });
text('False positive rate', 112, 806);
text('True positive rate', 9, 704, { rot: -90 });
text('Passive', 129, 719, { color: PINK, size: 14, align: 'left' });
text('Go/go', 129, 734, { color: CYAN, size: 14, align: 'left' });

/* ---------- H ---------- */
letter('H', 194, 611);
const hx = axis(.483, 1.017, { ticks: { callback: oneDecimal } });
hx.afterBuildTicks = fixedTicks([.5, .6, .7, .8, .9, 1]);
const hy = axis(0, 25, { ticks: { stepSize: 5 } });
const hy1 = axis(0, 1, { ticks: { stepSize: .2, callback: oneDecimal } });
hy1.position = 'right';
chartAt([241, 631, 400, 772], { l: 24, t: 9, r: 26, b: 24 }, 'bar', [
  { type: 'line', yAxisID: 'y1', data: pairs(cumGoGoX, cumGoGoY), borderColor: CYAN, borderWidth: 1.8, pointRadius: 0, order: 0 },
  { type: 'line', yAxisID: 'y1', data: pairs(cumPassiveX, cumPassiveY), borderColor: PINK, borderWidth: 1.6, pointRadius: 0, order: 1 },
  { data: pairs(aurocBins, pairsGoGo), backgroundColor: 'rgba(40,185,230,.6)', barThickness: 6, grouped: false, order: 2 },
  { data: pairs(aurocBins, pairsPassive), backgroundColor: 'rgba(240,110,165,.62)', barThickness: 6, grouped: false, order: 3 }
], { x: hx, y: hy, y1: hy1 });
text('# of cell-odor pairs', 209, 702, { rot: -90 });
text('Cumulative probability', 436, 699, { rot: -90 });
text('auROC', 317, 806);
text('Passive', 336, 719, { color: PINK, size: 14, align: 'left' });
text('Go/go', 336, 734, { color: CYAN, size: 14, align: 'left' });

/* ---------- I, J ---------- */
function groupChart(box, m, xMin, xMax, tickAt, yMin, yMax, yStep, means, errs, ptsA, ptsB, barW, capR) {
  const x = axis(xMin, xMax);
  x.grid.tickLength = 0;
  x.ticks.padding = 8;
  x.afterBuildTicks = fixedTicks(tickAt);
  x.ticks.callback = (v, i) => groupNames[i];
  const y = axis(yMin, yMax, { ticks: { stepSize: yStep, callback: oneDecimal } });
  const lo = means.map((v, i) => v - errs[i]), hi = means.map((v, i) => v + errs[i]);
  const centres = [1, 2];
  chartAt(box, m, 'bar', [
    { type: 'scatter', data: pairs(centres, lo), pointStyle: 'line', pointRadius: capR, pointBorderColor: '#111', pointBorderWidth: 1.4, order: 0 },
    { type: 'scatter', data: pairs(centres, hi), pointStyle: 'line', pointRadius: capR, pointBorderColor: '#111', pointBorderWidth: 1.4, order: 0 },
    { data: centres.map((c, i) => ({ x: c, y: [lo[i], hi[i]] })), backgroundColor: '#111', barThickness: 1.4, grouped: false, order: 1 },
    { type: 'scatter', data: ptsA.concat(ptsB), pointRadius: 2.7, pointBorderColor: '#a6a6a6', pointBackgroundColor: 'rgba(170,170,170,.3)', pointBorderWidth: 1.2, order: 2, clip: false },
    { data: centres.map((c, i) => ({ x: c, y: means[i] })), backgroundColor: [PINK, '#12b4e2'], borderColor: ['#6a4058', '#1c6c84'], borderWidth: 1.2, barThickness: barW, grouped: false, order: 3 }
  ], { x, y });
}
letter('I', 462, 610);
groupChart([498, 631, 602, 776], { l: 36, t: 9, r: 6, b: 24 }, .24, 2.42, [1, 2], .4, 1, .2, aurocMean, aurocErr,
  aurocPassiveX.map((o, i) => ({ x: 1 + o, y: aurocPassiveY[i] })),
  aurocGoGoX.map((o, i) => ({ x: 2 + o, y: aurocGoGoY[i] })), 25, 5);
text('auROC', 464, 707, { rot: -90 });
rule(536, 609, 48, 1.2, '#888'); rule(536, 609, 1.2, 5, '#888'); rule(583.5, 609, 1.2, 5, '#888');
text('***', 560, 604, { size: 18 });

letter('J', 613, 611);
groupChart([667, 628, 768, 774], { l: 36, t: 9, r: 7, b: 24 }, .297, 2.516, [1, 2.1], 0, 1, .2, rateDiffMean, rateDiffErr,
  diffPassiveX.map((o, i) => ({ x: 1 + o, y: diffPassiveY[i] })),
  diffGoGoX.map((o, i) => ({ x: 2 + o, y: diffGoGoY[i] })), 20.5, 5);
text('Difference in firing rate', 631, 702, { rot: -90 });
rule(703, 627, 47, 1.2, '#888'); rule(703, 627, 1.2, 5, '#888'); rule(749.5, 627, 1.2, 5, '#888');
text('***', 727, 622, { size: 18 });
</script>
</body>
</html>
